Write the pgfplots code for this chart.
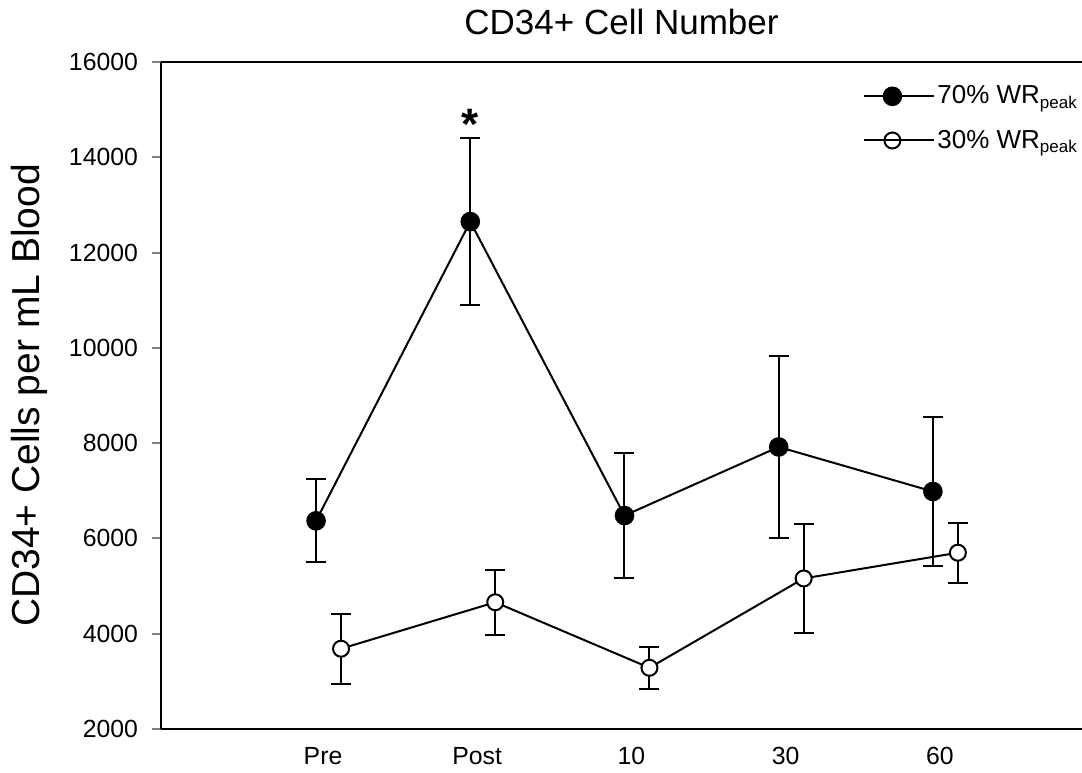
\documentclass[border=0pt]{standalone}
\usepackage{fontspec}
\setmainfont{Liberation Sans}
\usepackage{pgfplots}
\pgfplotsset{compat=1.18}
\usepackage{pgfplotstable}

% x = category position (Pre=1 ... 60=5), small offset per series
\pgfplotstableread{
x      y      e
0.955  6370   870
1.955  12650  1755
2.955  6480   1305
3.955  7920   1915
4.955  6985   1560
}\high
\pgfplotstableread{
x      y      e
1.117  3685   730
2.117  4660   685
3.117  3285   440
4.117  5160   1135
5.117  5700   630
}\low

\newcommand{\peak}{\raisebox{-0.35ex}{\fontsize{8.5}{9}\selectfont peak}}

\begin{document}
\begin{tikzpicture}
\begin{axis}[
    at={(0,0)}, anchor=south west,
    width=460.5pt, height=333.5pt, scale only axis,
    xmin=-0.0506, xmax=5.922,
    ymin=2000, ymax=16000,
    ytick distance=2000,
    scaled y ticks=false,
    xtick={1,2,3,4,5},
    xticklabels={Pre,Post,10,30,60},
    axis lines=left,
    axis line style={-, line width=1pt},
    tick align=outside,
    major tick length=4.5pt,
    ytick style={line width=1pt},
    xtick style={draw=none},
    /pgf/number format/1000 sep={},
    /pgf/number format/assume math mode=true,
    tick label style={font=\fontsize{12.4}{14}\selectfont},
    yticklabel style={font=\fontsize{12.4}{14}\selectfont, xshift=-3.5pt},
    xticklabel style={font=\fontsize{12.4}{14}\selectfont, yshift=-1pt},
    title={CD34+ Cell Number},
    title style={font=\fontsize{17.5}{20}\selectfont, at={(axis description cs:0.5,1)}, anchor=base, yshift=7.5pt},
    ylabel={CD34+ Cells per mL Blood},
    ylabel style={font=\fontsize{19.5}{22}\selectfont, at={(axis description cs:-0.1433,0.5)}, anchor=center},
    legend style={at={(axis description cs:0.7622,0.968)}, anchor=north west, draw=none, fill=none,
        font=\fontsize{13}{15}\selectfont, inner sep=0pt, row sep=9.5pt,
        nodes={inner sep=1pt}},
    legend cell align=left,
    legend image code/.code={\draw[#1, mark repeat=2, mark phase=2] plot coordinates {(0pt,0pt) (14pt,0pt) (28pt,0pt)};
        \path (0pt,0pt) -- (35pt,0pt);},
    clip=false,
]
\addplot[black, line width=1pt, mark=*, mark size=4.4pt, mark options={fill=black},
    error bars/.cd, y dir=both, y explicit,
    error bar style={line width=1pt},
    error mark options={rotate=90, mark size=5pt, line width=1pt}]
    table[x=x, y=y, y error=e] {\high};
\addlegendentry{70\% WR\peak}
\addplot[black, line width=1pt, mark=*, mark size=4pt, mark options={fill=white},
    error bars/.cd, y dir=both, y explicit,
    error bar style={line width=1pt},
    error mark options={rotate=90, mark size=5pt, line width=1pt}]
    table[x=x, y=y, y error=e] {\low};
\addlegendentry{30\% WR\peak}
\draw[line width=1pt] (rel axis cs:0,1) -- (rel axis cs:1,1);
\node[font=\bfseries\fontsize{22}{24}\selectfont, anchor=base] at (axis cs:1.955,14380) {*};
\end{axis}
\pgfresetboundingbox
\path[use as bounding box] (-80.5pt,-21.5pt) rectangle (460.5pt,364.5pt);
\end{tikzpicture}
\end{document}
